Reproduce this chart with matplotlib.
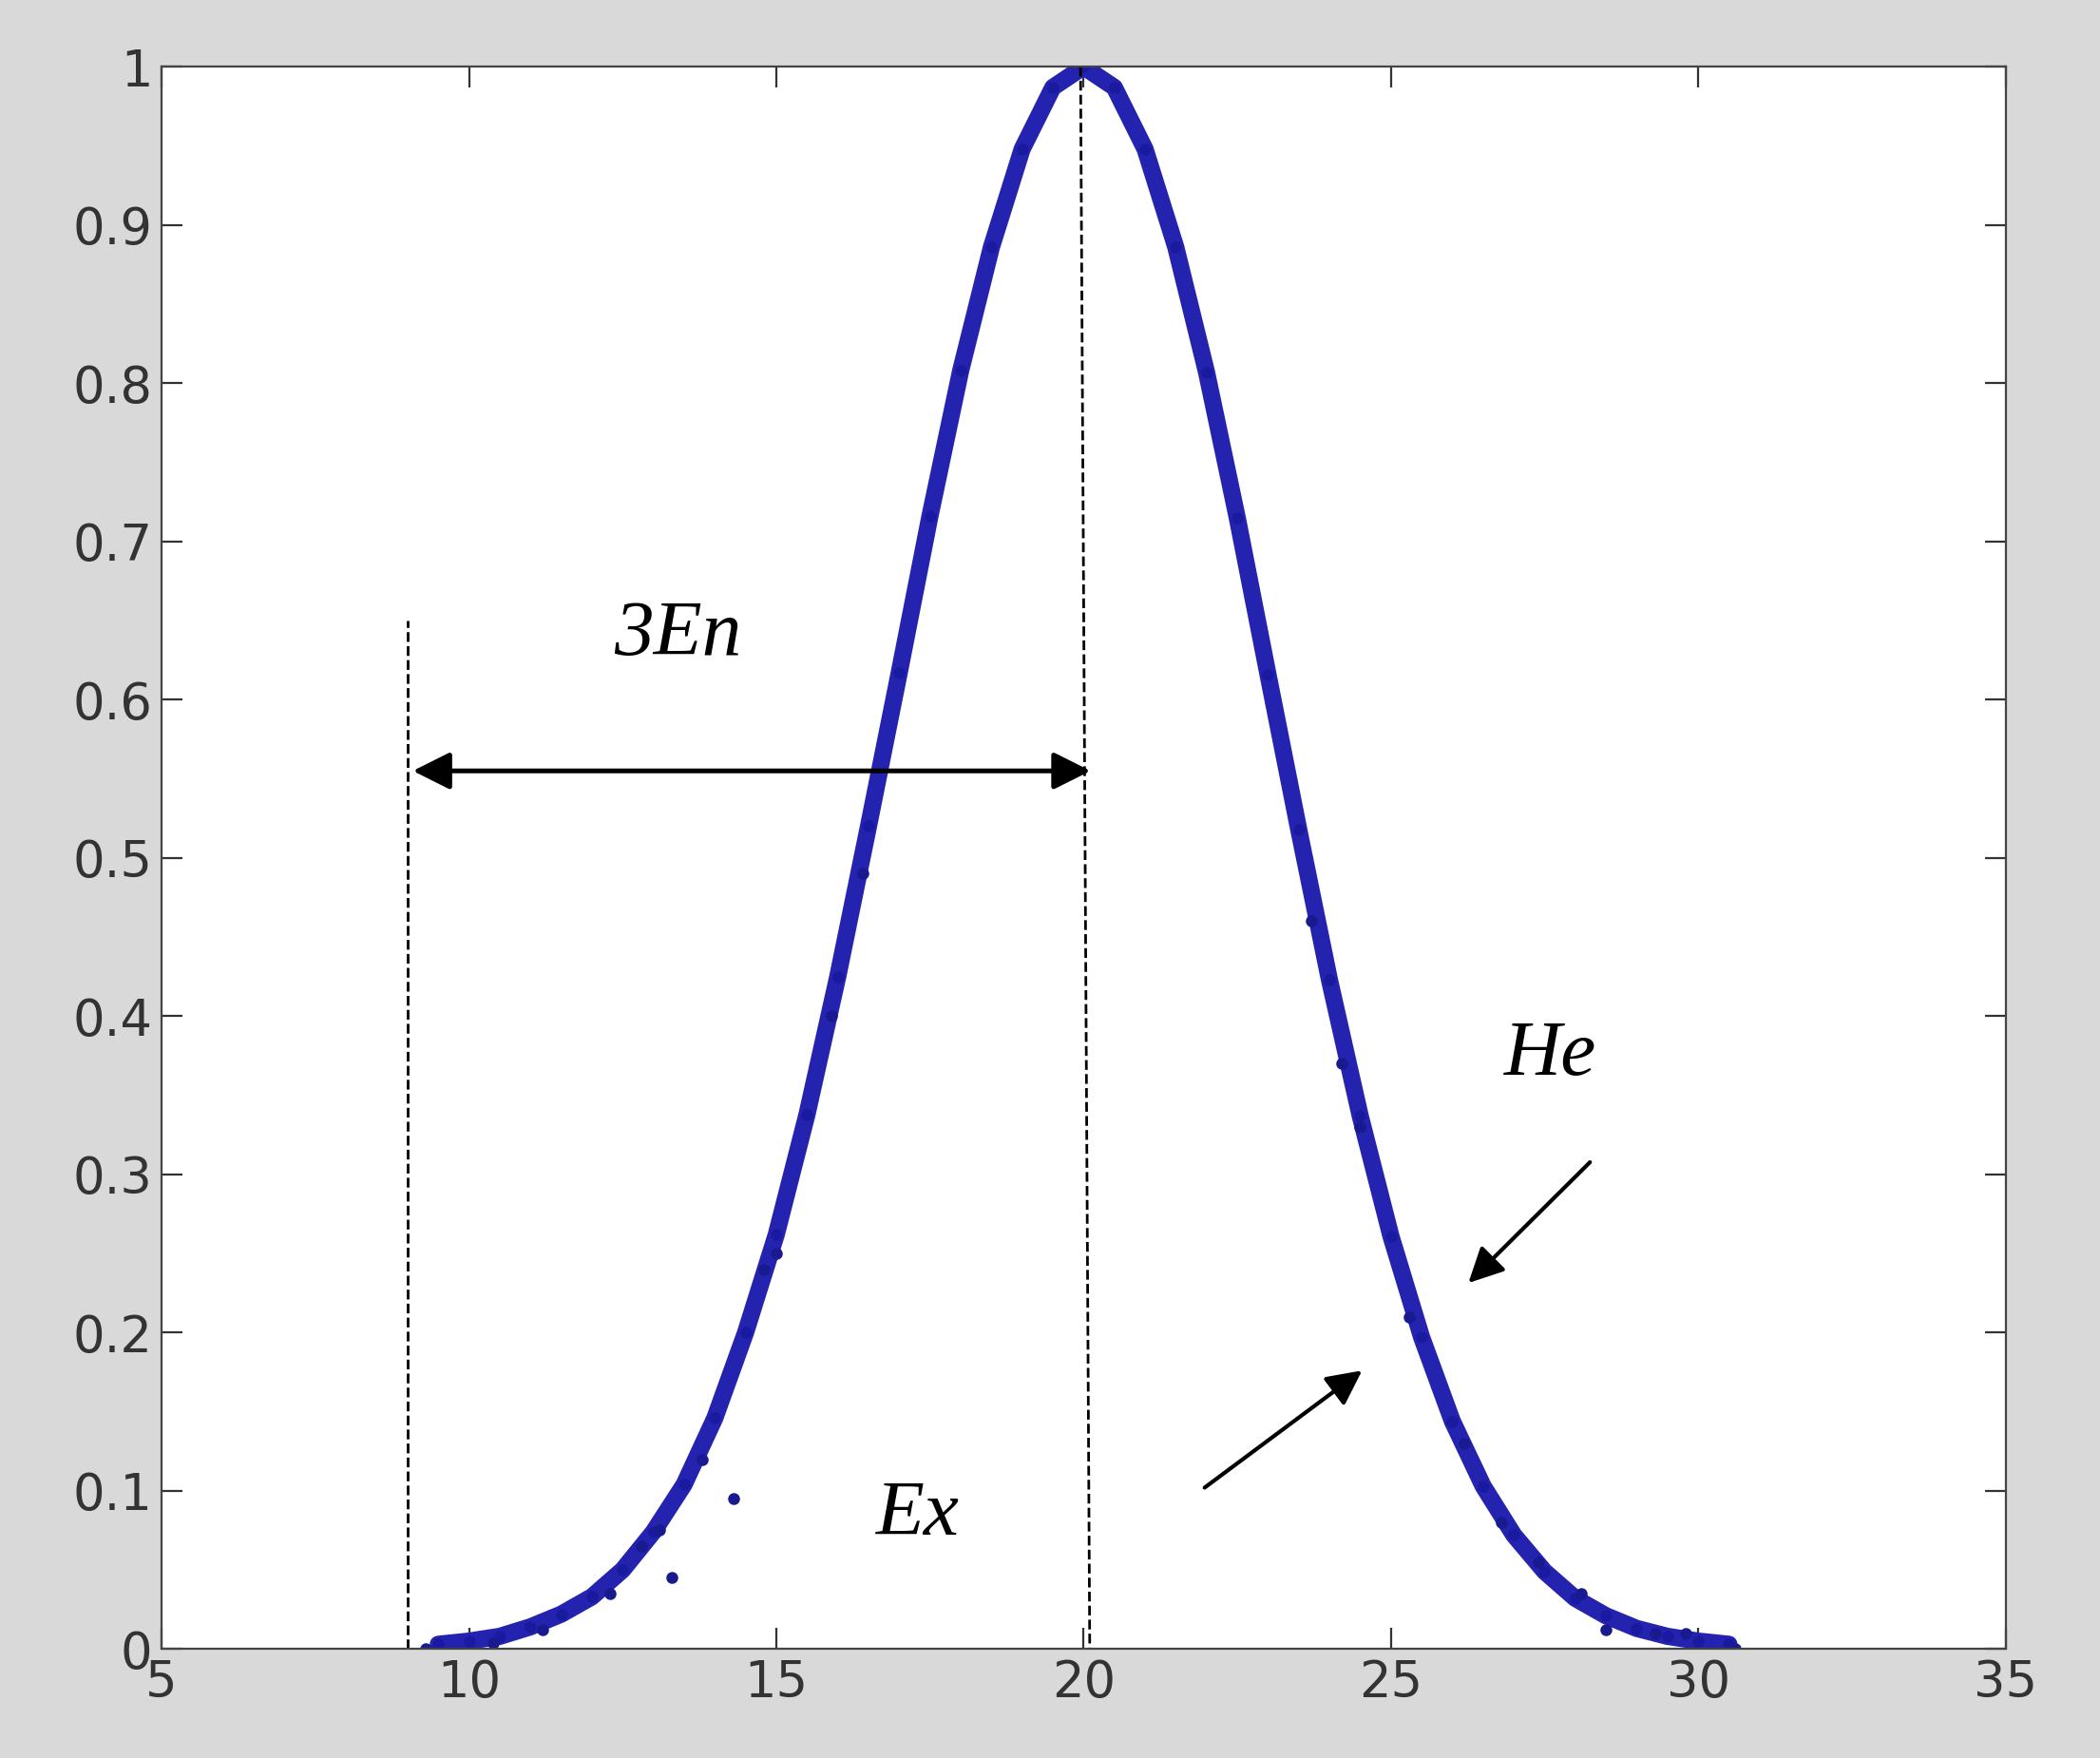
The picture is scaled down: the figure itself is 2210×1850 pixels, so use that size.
import numpy as np
import matplotlib.pyplot as plt

# cloud drops (x, membership)
drop_x = [9.5, 10.0, 10.5, 11.0, 11.5, 12.0, 12.5, 13.0, 13.5, 14.0, 14.5, 15.0, 15.5, 16.0,
          16.5, 17.0, 17.5, 18.0, 18.5, 19.0, 19.5, 20.0, 20.5, 21.0, 21.5, 22.0, 22.5, 23.0,
          23.5, 24.0, 24.5, 25.0, 25.5, 26.0, 26.5, 27.0, 27.5, 28.0, 28.5, 29.0, 29.5, 30.0, 30.5]
drop_y = [0.003, 0.005, 0.008, 0.014, 0.022, 0.033, 0.050, 0.074, 0.104, 0.146, 0.200, 0.262,
          0.338, 0.425, 0.520, 0.617, 0.716, 0.808, 0.886, 0.948, 0.987, 1.000, 0.987, 0.948,
          0.886, 0.807, 0.715, 0.616, 0.518, 0.423, 0.337, 0.261, 0.197, 0.144, 0.103, 0.072,
          0.049, 0.032, 0.021, 0.013, 0.008, 0.005, 0.003]
scatter_x = [9.3, 10.4, 11.2, 12.3, 13.3, 13.8, 14.3, 15.0, 15.9, 16.4, 23.7, 24.5, 25.3,
             26.2, 26.8, 27.4, 28.1, 28.5, 29.3, 29.8, 30.6, 24.2, 14.8, 12.8, 13.1]
scatter_y = [0.0, 0.004, 0.012, 0.035, 0.045, 0.12, 0.095, 0.25, 0.40, 0.49, 0.46, 0.33, 0.21,
             0.13, 0.08, 0.055, 0.035, 0.012, 0.01, 0.01, 0.0, 0.37, 0.24, 0.065, 0.075]

fig = plt.figure(figsize=(11.05, 9.25), dpi=200, facecolor='#d9d9d9')
ax = fig.add_axes([0.077, 0.062, 0.878, 0.9])
ax.set_facecolor('white')

ax.plot(drop_x, drop_y, color='#2323b0', lw=6.5, solid_capstyle='round', solid_joinstyle='round')
ax.plot(drop_x, drop_y, 'o', color='#1a1aa0', ms=3.5)
ax.plot(scatter_x, scatter_y, 'o', color='#1a1a90', ms=3.5)

ax.plot([9.0, 9.0], [0.0, 0.65], 'k--', lw=1)
ax.plot([19.95, 20.1], [1.0, 0.0], 'k--', lw=1)
ax.annotate('', xy=(9.0, 0.555), xytext=(20.2, 0.555),
            arrowprops=dict(arrowstyle='<|-|>', color='k', lw=1.8, mutation_scale=30))
ax.annotate('', xy=(26.2, 0.229), xytext=(28.3, 0.31),
            arrowprops=dict(arrowstyle='-|>', color='k', lw=1.5, mutation_scale=28))
ax.annotate('', xy=(24.6, 0.178), xytext=(21.9, 0.10),
            arrowprops=dict(arrowstyle='-|>', color='k', lw=1.5, mutation_scale=28))

tfont = dict(family='Liberation Serif', style='italic', fontsize=30)
ax.text(13.4, 0.64, '3En', ha='center', va='center', **tfont)
ax.text(27.6, 0.375, 'He', ha='center', va='center', **tfont)
ax.text(17.3, 0.084, 'Ex', ha='center', va='center', **tfont)

ax.set_xlim(5, 35)
ax.set_ylim(0, 1)
ax.set_xticks([5, 10, 15, 20, 25, 30, 35])
ax.set_yticks(np.arange(0, 1.01, 0.1))
ax.set_yticklabels(['0', '0.1', '0.2', '0.3', '0.4', '0.5', '0.6', '0.7', '0.8', '0.9', '1'])
ax.tick_params(direction='in', top=True, right=True, length=8, labelsize=19, colors='#333333')
for s in ax.spines.values():
    s.set_color('#444444')

fig.savefig('out.png', dpi=200, facecolor=fig.get_facecolor())
